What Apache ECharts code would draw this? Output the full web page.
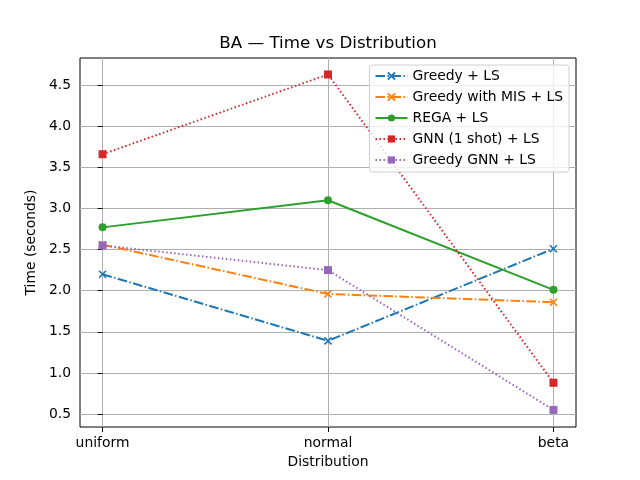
<!DOCTYPE html>
<html><head><meta charset="utf-8">
<script src="https://cdn.jsdelivr.net/npm/echarts@6/dist/echarts.min.js"></script>
<style>html,body{margin:0;padding:0;background:#fff}#c{width:640px;height:480px}</style>
</head><body><div id="c"></div>
<script>
const categories = ['uniform', 'normal', 'beta'];
const yTicks = [0.5, 1.0, 1.5, 2.0, 2.5, 3.0, 3.5, 4.0, 4.5];
const greedyLS = [2.20, 1.39, 2.51];
const greedyMisLS = [2.56, 1.96, 1.86];
const regaLS = [2.77, 3.10, 2.01];
const gnnOneShotLS = [3.66, 4.63, 0.88];
const greedyGnnLS = [2.55, 2.25, 0.55];

const FONT = 'DejaVu Sans';
const FS = 13.9;
const xMark = 'path://M0,0L10,10M10,0L0,10';
function pts(arr){ return arr.map((v,i)=>[i,v]); }
function mk(name, data, color, dash, symbol, isX){
  return {
    name, type:'line', data: pts(data),
    symbol, symbolSize: isX ? 7 : 8,
    showSymbol: true,
    lineStyle:{color, width:2, type: dash === 'solid' ? 'solid' : dash},
    itemStyle: isX ? {color:'rgba(0,0,0,0)', borderColor:color, borderWidth:1.6} : {color, borderWidth:0},
    color,
    emphasis:{disabled:true},
    animation:false
  };
}
const chart = echarts.init(document.getElementById('c'));
chart.setOption({
  backgroundColor:'#fff',
  animation:false,
  title:{text:'BA — Time vs Distribution', left:328, top:35, textAlign:'center', padding:0,
    textStyle:{fontFamily:FONT, fontSize:16.7, fontWeight:'normal', color:'#000'}},
  legend:{
    right:71, top:65, orient:'vertical', padding:[4,6,5,5],
    backgroundColor:'rgba(255,255,255,0.8)', borderColor:'#d0d0d0', borderWidth:1, borderRadius:3,
    itemWidth:32, itemHeight:9, itemGap:7,
    textStyle:{fontFamily:FONT, fontSize:FS, color:'#000'},
    data: ['Greedy + LS','Greedy with MIS + LS','REGA + LS','GNN (1 shot) + LS','Greedy GNN + LS']
  },
  grid:{left:80, right:64, top:58, bottom:53, show:true, borderColor:'#000', borderWidth:1, backgroundColor:'transparent'},
  xAxis:{
    type:'value', min:-0.1, max:2.1,
    name:'Distribution', nameLocation:'middle', nameGap:28,
    nameTextStyle:{fontFamily:FONT, fontSize:FS, color:'#000'},
    axisLine:{show:false},
    axisTick:{show:true, length:5, lineStyle:{color:'#000'}, customValues:[0,1,2]},
    axisLabel:{customValues:[0,1,2], formatter:v=>categories[Math.round(v)], fontFamily:FONT, fontSize:FS, color:'#000', margin:9},
    splitLine:{show:true, lineStyle:{color:'#b0b0b0', width:1}}
  },
  yAxis:{
    type:'value', min:0.342, max:4.83,
    name:'Time (seconds)', nameLocation:'middle', nameGap:35,
    nameTextStyle:{fontFamily:FONT, fontSize:FS, color:'#000'},
    axisLine:{show:false},
    axisTick:{show:true, length:5, lineStyle:{color:'#000'}, customValues:yTicks},
    axisLabel:{customValues:yTicks, formatter:v=>v.toFixed(1), fontFamily:FONT, fontSize:FS, color:'#000', margin:9},
    splitLine:{show:true, lineStyle:{color:'#b0b0b0', width:1}}
  },
  series:[
    mk('Greedy + LS', greedyLS, '#1f77b4', [9.6,2.4,1.5,2.4], xMark, true),
    mk('Greedy with MIS + LS', greedyMisLS, '#ff7f0e', [9.6,2.4,1.5,2.4], xMark, true),
    mk('REGA + LS', regaLS, '#2ca02c', 'solid', 'circle', false),
    mk('GNN (1 shot) + LS', gnnOneShotLS, '#d62728', [1.5,2.5], 'rect', false),
    mk('Greedy GNN + LS', greedyGnnLS, '#9467bd', [1.5,2.5], 'rect', false)
  ]
});
</script></body></html>
